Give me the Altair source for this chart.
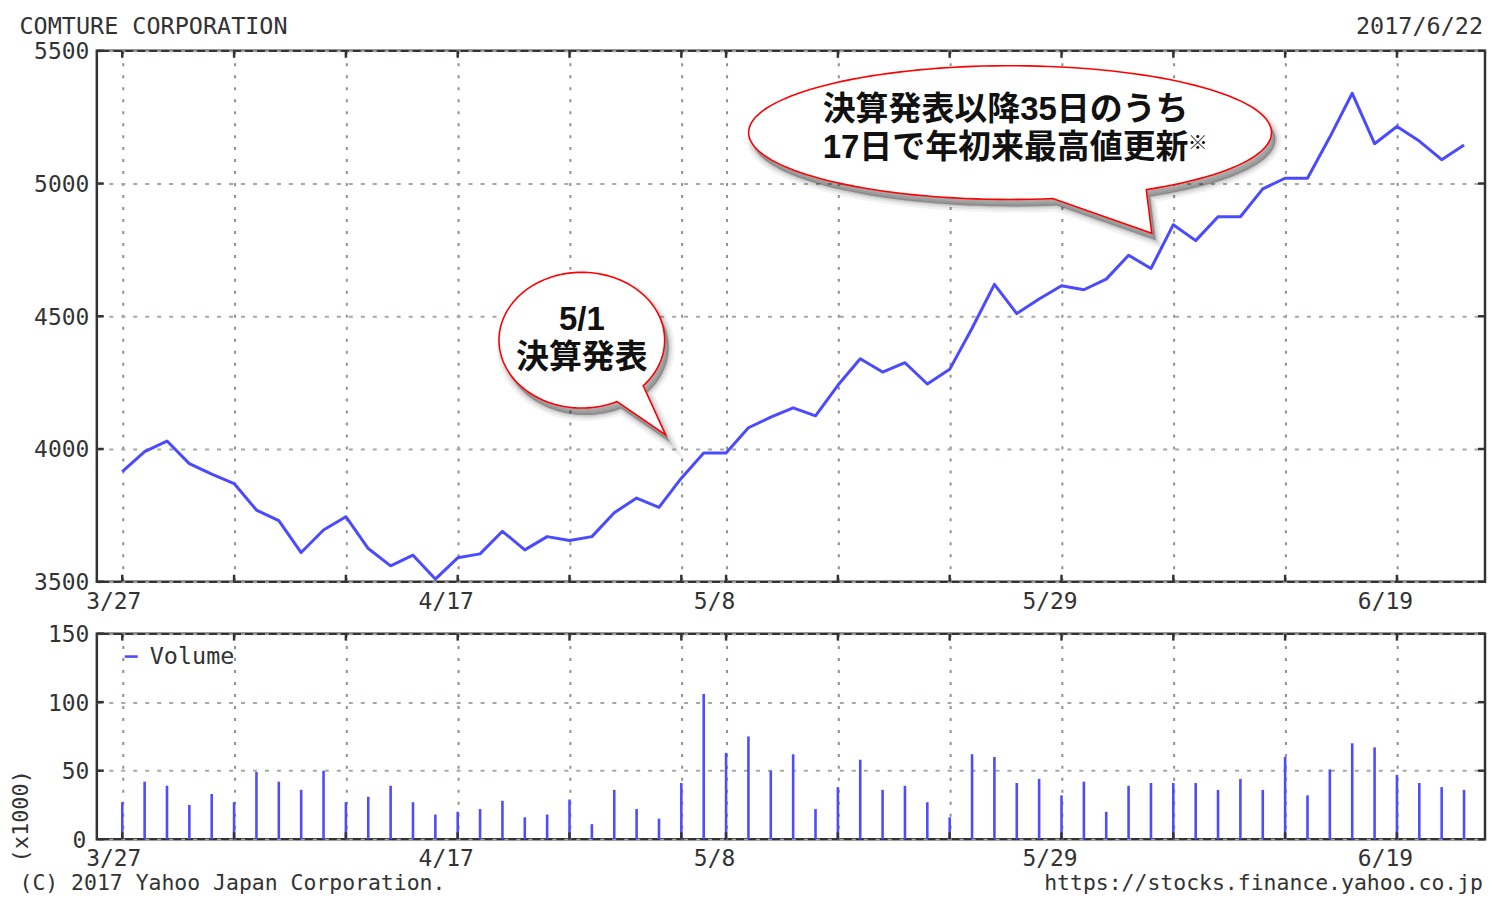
import math
import json
import altair as alt
import pandas as pd

# ---------------- data ----------------
dates = ["3/27", "3/28", "3/29", "3/30", "3/31",
         "4/3", "4/4", "4/5", "4/6", "4/7",
         "4/10", "4/11", "4/12", "4/13", "4/14",
         "4/17", "4/18", "4/19", "4/20", "4/21",
         "4/24", "4/25", "4/26", "4/27", "4/28",
         "5/1", "5/2",
         "5/8", "5/9", "5/10", "5/11", "5/12",
         "5/15", "5/16", "5/17", "5/18", "5/19",
         "5/22", "5/23", "5/24", "5/25", "5/26",
         "5/29", "5/30", "5/31", "6/1", "6/2",
         "6/5", "6/6", "6/7", "6/8", "6/9",
         "6/12", "6/13", "6/14", "6/15", "6/16",
         "6/19", "6/20", "6/21", "6/22"]

prices = [3915, 3990, 4030, 3945, 3905,
          3870, 3770, 3730, 3610, 3695,
          3745, 3625, 3560, 3600, 3510,
          3590, 3605, 3690, 3620, 3670,
          3655, 3670, 3760, 3815, 3780,
          3890, 3985,
          3985, 4080, 4120, 4155, 4125,
          4240, 4340, 4290, 4325, 4245,
          4300, 4455, 4620, 4510, 4565,
          4615, 4600, 4640, 4730, 4680,
          4845, 4785, 4875, 4875, 4980,
          5020, 5020, 5175, 5340, 5150,
          5215, 5160, 5090, 5145]

volumes = [27, 42, 39, 25, 33,
           27, 49, 42, 36, 50,
           27, 31, 39, 27, 18,
           20, 22, 28, 16, 18,
           29, 11, 36, 22, 15,
           41, 106,
           63, 75, 50, 62, 22,
           38, 58, 36, 39, 27,
           16, 62, 60, 41, 44,
           32, 42, 20, 39, 41,
           41, 41, 36, 44, 36,
           60, 32, 51, 70, 67,
           47, 41, 38, 36]

week_ticks = [0, 5, 10, 15, 20, 25, 27, 32, 37, 42, 47, 52, 57]
labeled_ticks = [0, 15, 27, 42, 57]
price_ticks = [3500, 4000, 4500, 5000, 5500]
volume_ticks = [0, 50, 100, 150]

title_left = "COMTURE CORPORATION"
title_right = "2017/6/22"
foot_left = "(C) 2017 Yahoo Japan Corporation."
foot_right = "https://stocks.finance.yahoo.co.jp"
legend_label = "Volume"
volume_unit = "(x1000)"

ann_lines = [["5/1", "決算発表"],
             ["決算発表以降35日のうち", "17日で年初来最高値更新"]]
ann_x = [20.55, 39.5]
ann_y = [4485, 5278]
note_text = ["※"]
note_x = [47.65]
note_y = [5148]

bubble_x = [20.55, 39.7]
bubble_y = [4410, 5192]

# ---------------- geometry / style ----------------
W, HP, HV = 1391, 532, 206
MONO = "DejaVu Sans Mono"
JP = "Liberation Sans, Noto Sans CJK JP"
TXT = "#333333"


def bubble_path(rx, ry, a1, a2, tip, n=140):
    end = a2 + 360
    pts = []
    for k in range(n + 1):
        t = math.radians(a1 + (end - a1) * k / n)
        pts.append((rx * math.cos(t), ry * math.sin(t)))
    pts.append(tip)
    return "M " + " L ".join(f"{x:.2f} {y:.2f}" for x, y in pts) + " Z"


bubble_shapes = [bubble_path(83, 68, 64.8, 42.2, (84, 95)),
                 bubble_path(262, 67, 80.6, 58.6, (142, 101))]

xs = alt.Scale(domain=[-1.138, 60.938], nice=False, zero=False)
ys = alt.Scale(domain=[3500, 5500], nice=False, zero=False)
yv = alt.Scale(domain=[0, 150], nice=False, zero=False)

label_expr = (f"indexof({json.dumps(labeled_ticks)}, datum.value) >= 0 ? "
              f"{json.dumps(dates, ensure_ascii=False)}[datum.value] : ''")


def xaxis(pad, size):
    return alt.Axis(values=week_ticks, labelExpr=label_expr, title=None, grid=True,
                    ticks=False, domain=False, labelFont=MONO, labelFontSize=size,
                    labelColor=TXT, labelPadding=pad, labelBaseline="middle",
                    labelOffset={"condition": {"test": "datum.value == 0", "value": -9},
                                 "value": -12},
                    labelFlush=False, labelOverlap=False,
                    gridColor="#8f8f8f", gridDash=[3, 9], gridWidth=2)


def yaxis(vals):
    return alt.Axis(values=vals, title=None, grid=True, ticks=False, domain=False,
                    format="d", labelFont=MONO, labelFontSize=23, labelColor=TXT,
                    labelPadding={"condition": {"test": "datum.value == 0", "value": 11},
                                  "value": 8},
                    labelOffset=1, labelFlush=False, labelOverlap=False,
                    gridColor="#a2aaa2", gridDash=[4, 8], gridWidth=2)


def inward_ticks(xscale, yscale, yvals, h):
    wk = pd.DataFrame({"i": week_ticks})
    yv_df = pd.DataFrame({"v": yvals})
    tk = dict(color="#333333", strokeWidth=2.5)
    return [
        alt.Chart(wk).mark_rule(**tk).encode(
            x=alt.X("i:Q", scale=xscale), y=alt.value(h), y2=alt.value(h - 7)),
        alt.Chart(wk).mark_rule(**tk).encode(
            x=alt.X("i:Q", scale=xscale), y=alt.value(0), y2=alt.value(7)),
        alt.Chart(yv_df).mark_rule(**tk).encode(
            y=alt.Y("v:Q", scale=yscale), x=alt.value(0), x2=alt.value(7)),
        alt.Chart(yv_df).mark_rule(**tk).encode(
            y=alt.Y("v:Q", scale=yscale), x=alt.value(W), x2=alt.value(W - 7)),
    ]


def page_text(text, x, y, align, size=23.5, angle=0):
    return alt.Chart(pd.DataFrame({"t": [text]})).mark_text(
        font=MONO, fontSize=size, color=TXT, align=align, baseline="middle", angle=angle
    ).encode(x=alt.value(x), y=alt.value(y), text="t:N")


# ---------------- price panel ----------------
price_df = pd.DataFrame({"i": list(range(len(dates))), "date": dates, "price": prices})
bub_df = pd.DataFrame({"bx": bubble_x, "by": bubble_y, "path": bubble_shapes})
ann_df = pd.DataFrame({"t": ann_lines, "ax": ann_x, "ay": ann_y})
note_df = pd.DataFrame({"t": note_text, "ax": note_x, "ay": note_y})

line = alt.Chart(price_df).mark_line(color="#4a4aff", strokeWidth=3, strokeJoin="round").encode(
    x=alt.X("i:Q", scale=xs, axis=xaxis(20, 23)),
    y=alt.Y("price:Q", scale=ys, axis=yaxis(price_ticks)),
)


def bubble_layer(**props):
    return alt.Chart(bub_df).mark_point(size=4, filled=True, **props).encode(
        x=alt.X("bx:Q", scale=xs),
        y=alt.Y("by:Q", scale=ys),
        shape=alt.Shape("path:N", scale=None),
    )


shadows = [
    bubble_layer(fill="black", fillOpacity=0.05, stroke="black", strokeOpacity=0.05,
                 strokeWidth=12, xOffset=4, yOffset=7),
    bubble_layer(fill="black", fillOpacity=0.07, stroke="black", strokeOpacity=0.07,
                 strokeWidth=7, xOffset=4, yOffset=7),
    bubble_layer(fill="black", fillOpacity=0.10, stroke="black", strokeOpacity=0.10,
                 strokeWidth=3, xOffset=4, yOffset=7),
    bubble_layer(fill="black", fillOpacity=0.12, strokeWidth=0, xOffset=4, yOffset=7),
]
bubbles = bubble_layer(fill="white", stroke="#ff0000", strokeWidth=1.6, opacity=1)

ann = alt.Chart(ann_df).mark_text(font=JP, fontSize=33, fontWeight="bold", color="#111111",
                                  align="center", baseline="middle", lineHeight=38).encode(
    x=alt.X("ax:Q", scale=xs), y=alt.Y("ay:Q", scale=ys), text="t:N")
note = alt.Chart(note_df).mark_text(font=JP, fontSize=20, fontWeight="bold", color="#111111",
                                    align="left", baseline="middle").encode(
    x=alt.X("ax:Q", scale=xs), y=alt.Y("ay:Q", scale=ys), text="t:N")

anchor = alt.Chart(pd.DataFrame({"a": [0]})).mark_rule(opacity=0, strokeWidth=1).encode(
    x=alt.value(-87), x2=alt.value(-87), y=alt.value(-40), y2=alt.value(-38))

price = alt.layer(
    line, *inward_ticks(xs, ys, price_ticks, HP), *shadows, bubbles, ann, note,
    page_text(title_left, -77.5, -24, "left"),
    page_text(title_right, W - 2, -24, "right"),
    anchor,
).properties(width=W, height=HP)

# ---------------- volume panel ----------------
vol_df = pd.DataFrame({"i": list(range(len(dates))), "vol": volumes})

bars = alt.Chart(vol_df).mark_rule(color="#4d4dff", strokeWidth=2.6).encode(
    x=alt.X("i:Q", scale=xs, axis=xaxis(19, 23)),
    y=alt.Y("vol:Q", scale=yv, axis=yaxis(volume_ticks)),
    y2=alt.datum(0),
)

leg_line = alt.Chart(pd.DataFrame({"a": [0]})).mark_rule(color="#4d4dff", strokeWidth=2.6).encode(
    x=alt.value(28), x2=alt.value(41), y=alt.value(23))

volume = alt.layer(
    bars, *inward_ticks(xs, yv, volume_ticks, HV), leg_line,
    page_text(legend_label, 53, 23, "left"),
    page_text(volume_unit, -75.5, 183, "center", size=22, angle=270),
    page_text(foot_left, -77.5, 251, "left", size=21.5),
    page_text(foot_right, W - 2, 251, "right", size=21.5),
).properties(width=W, height=HV)

chart = alt.vconcat(price, volume, spacing=52, bounds="flush").properties(
    padding={"left": 0, "top": 0, "right": 0, "bottom": 0},
    background="white",
).configure_view(stroke="#333333", strokeWidth=2.5)

chart.save("out.html", embed_options={"renderer": "svg", "actions": False})
